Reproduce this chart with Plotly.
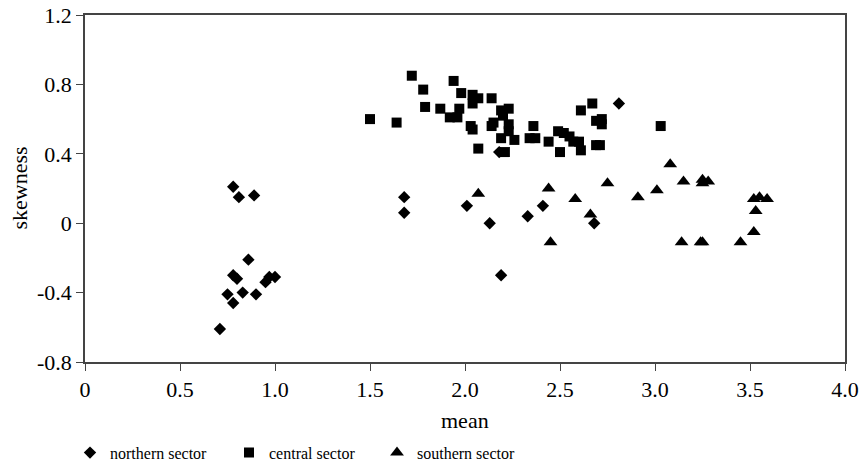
import plotly.graph_objects as go

# northern sector (diamonds)
north_mean = [0.78, 0.81, 0.89, 0.86, 0.78, 0.80, 0.75, 0.83, 0.90, 0.78, 0.71, 0.95, 0.97, 1.00,
              1.68, 1.68, 2.01, 2.13, 2.33, 2.41, 2.18, 2.19, 2.81, 2.68]
north_skew = [0.21, 0.15, 0.16, -0.21, -0.30, -0.32, -0.41, -0.40, -0.41, -0.46, -0.61, -0.34, -0.31, -0.31,
              0.15, 0.06, 0.10, 0.00, 0.04, 0.10, 0.41, -0.30, 0.69, 0.00]

# central sector (squares)
central_mean = [1.50, 1.64, 1.72, 1.78, 1.79, 1.87, 1.94, 1.92, 1.96, 1.97, 1.98, 2.04, 2.07, 2.04,
                2.14, 2.03, 2.04, 2.07, 2.14, 2.15, 2.19, 2.23, 2.20, 2.19, 2.23, 2.23, 2.21, 2.26,
                2.34, 2.37, 2.36, 2.44, 2.50, 2.49, 2.52, 2.55, 2.57, 2.60, 2.61, 2.61, 2.67, 2.69,
                2.72, 2.72, 2.69, 2.71, 3.03]
central_skew = [0.60, 0.58, 0.85, 0.77, 0.67, 0.66, 0.82, 0.61, 0.61, 0.66, 0.75, 0.74, 0.72, 0.69,
                0.72, 0.56, 0.54, 0.43, 0.56, 0.58, 0.65, 0.66, 0.62, 0.49, 0.57, 0.53, 0.41, 0.48,
                0.49, 0.49, 0.56, 0.47, 0.41, 0.53, 0.52, 0.50, 0.47, 0.47, 0.42, 0.65, 0.69, 0.59,
                0.60, 0.57, 0.45, 0.45, 0.56]

# southern sector (triangles)
south_mean = [2.07, 2.44, 2.45, 2.58, 2.66, 2.75, 2.91, 3.01, 3.08, 3.15, 3.25, 3.25, 3.28, 3.14,
              3.24, 3.25, 3.45, 3.52, 3.55, 3.59, 3.53, 3.52]
south_skew = [0.17, 0.20, -0.11, 0.14, 0.05, 0.23, 0.15, 0.19, 0.34, 0.24, 0.25, 0.23, 0.24, -0.11,
              -0.11, -0.11, -0.11, 0.14, 0.15, 0.14, 0.07, -0.05]

x_ticks = [0, 0.5, 1.0, 1.5, 2.0, 2.5, 3.0, 3.5, 4.0]
x_ticklabels = ["0", "0.5", "1.0", "1.5", "2.0", "2.5", "3.0", "3.5", "4.0"]
y_ticks = [-0.8, -0.4, 0, 0.4, 0.8, 1.2]
y_ticklabels = ["-0.8", "-0.4", "0", "0.4", "0.8", "1.2"]

FONT = "Liberation Serif"
W, H = 863, 467
L, R, T, B = 85, 18, 15, 105
PW, PH = W - L - R, H - T - B

fig = go.Figure()
fig.add_trace(go.Scatter(x=north_mean, y=north_skew, mode="markers", name="northern sector",
                         marker=dict(symbol="diamond", size=9.5, color="black"), legend="legend",
                         showlegend=True))
fig.add_trace(go.Scatter(x=central_mean, y=central_skew, mode="markers", name="central sector",
                         marker=dict(symbol="square", size=10, color="black"), legend="legend2",
                         showlegend=True))
fig.add_trace(go.Scatter(x=south_mean, y=south_skew, mode="markers", name="southern sector",
                         marker=dict(symbol="triangle-up", size=12, color="black"), legend="legend3",
                         showlegend=True))

leg_common = dict(orientation="h", xref="container", yref="container", yanchor="middle",
                  xanchor="left", font=dict(family=FONT, size=16, color="black"),
                  bgcolor="rgba(0,0,0,0)", borderwidth=0, y=1 - 452.7 / H)

fig.update_layout(
    width=W, height=H,
    margin=dict(l=L, r=R, t=T, b=B),
    showlegend=True,
    plot_bgcolor="white", paper_bgcolor="white",
    font=dict(family=FONT, color="black"),
    xaxis=dict(range=[0, 4.0], tickvals=x_ticks, ticktext=x_ticklabels, showgrid=False, zeroline=False,
               showline=True, linecolor="#444", linewidth=1.5, mirror=True, automargin=False,
               ticklabeloverflow="allow",
               ticks="outside", ticklen=7, tickcolor="#444", tickfont=dict(size=22, family=FONT)),
    yaxis=dict(range=[-0.8, 1.2], tickvals=y_ticks, ticktext=y_ticklabels, showgrid=False, zeroline=False,
               showline=True, linecolor="#444", linewidth=1.5, mirror=True, automargin=False,
               ticklabeloverflow="allow",
               ticks="outside", ticklen=7, tickcolor="#444", tickfont=dict(size=22, family=FONT)),
    legend=dict(x=70 / W, **leg_common),
    legend2=dict(x=229 / W, **leg_common),
    legend3=dict(x=377 / W, **leg_common),
    annotations=[
        dict(text="mean", xref="paper", yref="paper", x=0.5, y=-(420 - (H - B)) / PH,
             xanchor="center", yanchor="middle", showarrow=False, font=dict(size=22, family=FONT)),
        dict(text="skewness", textangle=-90, xref="paper", yref="paper",
             x=-(L - 19) / PW, y=0.5, xanchor="center", yanchor="middle", showarrow=False,
             font=dict(size=22, family=FONT)),
    ],
)

fig.write_html("out.html", config={"displayModeBar": False},
               post_script="document.body.style.margin='0';")
